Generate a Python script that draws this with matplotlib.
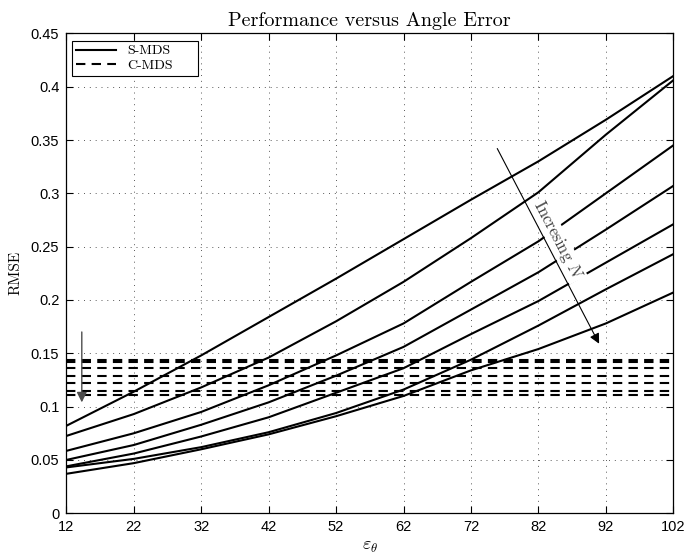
import matplotlib
matplotlib.use('Agg')
import matplotlib.pyplot as plt
from matplotlib.ticker import FuncFormatter

# =============================================================================
# 1. DATA
# =============================================================================

# angle error values on the x axis
eps_theta = [12, 22, 32, 42, 52, 62, 72, 82, 92, 102]

# S-MDS RMSE, one curve per network size (smallest N first)
smds_n1 = [0.082, 0.114, 0.148, 0.184, 0.220, 0.257, 0.294, 0.330, 0.369, 0.410]
smds_n2 = [0.0725, 0.093, 0.118, 0.146, 0.180, 0.217, 0.258, 0.301, 0.355, 0.406]
smds_n3 = [0.0585, 0.075, 0.095, 0.120, 0.148, 0.178, 0.217, 0.255, 0.300, 0.345]
smds_n4 = [0.050, 0.064, 0.083, 0.104, 0.129, 0.156, 0.191, 0.226, 0.266, 0.307]
smds_n5 = [0.044, 0.056, 0.072, 0.090, 0.113, 0.136, 0.168, 0.199, 0.235, 0.271]
smds_n6 = [0.043, 0.051, 0.062, 0.076, 0.094, 0.116, 0.144, 0.176, 0.210, 0.243]
smds_n7 = [0.037, 0.047, 0.060, 0.074, 0.091, 0.110, 0.134, 0.154, 0.178, 0.207]
smds_curves = [smds_n1, smds_n2, smds_n3, smds_n4, smds_n5, smds_n6, smds_n7]

# C-MDS does not depend on the angle error: one flat RMSE level per N
cmds_levels = [0.144, 0.142, 0.136, 0.129, 0.122, 0.115, 0.111]

y_ticks = [0, 0.05, 0.1, 0.15, 0.2, 0.25, 0.3, 0.35, 0.4, 0.45]

# annotation arrows (data coordinates)
arrow_cmds_start = (14.3, 0.170)
arrow_cmds_end = (14.3, 0.104)
arrow_smds_start = (75.9, 0.342)
arrow_smds_end = (91.0, 0.159)

# =============================================================================
# 2. FIGURE
# =============================================================================

plt.rcParams['mathtext.fontset'] = 'cm'

fig = plt.figure(figsize=(6.89, 5.57), dpi=100)
ax = fig.add_axes([0.0962, 0.0785, 0.881, 0.8616])

for i, curve in enumerate(smds_curves):
    ax.plot(eps_theta, curve, color='k', linewidth=1.5, zorder=2,
            label='S-MDS' if i == 0 else None)

for i, level in enumerate(cmds_levels):
    ax.plot(eps_theta, [level] * len(eps_theta), color='k', linewidth=1.5,
            linestyle=(0, (4.5, 3)), zorder=2,
            label='C-MDS' if i == 0 else None)

# =============================================================================
# 3. AXES, GRID AND TEXT
# =============================================================================

ax.set_xlim(eps_theta[0], eps_theta[-1])
ax.set_ylim(y_ticks[0], y_ticks[-1])
ax.set_xticks(eps_theta)
ax.set_yticks(y_ticks)
ax.yaxis.set_major_formatter(FuncFormatter(lambda v, p: f'{v:g}'))

ax.tick_params(direction='in', top=True, right=True, length=5, width=0.8,
               labelsize=10.5, pad=5)
for lbl in ax.get_xticklabels() + ax.get_yticklabels():
    lbl.set_fontfamily('Liberation Sans')
for side in ax.spines.values():
    side.set_linewidth(0.9)

ax.grid(True, color='0.35', linestyle=(0, (1, 5)), linewidth=0.7)
ax.set_axisbelow(True)

ax.set_title('Performance versus Angle Error', fontfamily='cmr10',
             fontsize=14.5, pad=5)
ax.set_ylabel('RMSE', fontfamily='cmr10', fontsize=11, labelpad=6)
ax.set_xlabel(r'$\varepsilon_\theta$', fontsize=13, labelpad=2)

# legend box stretched to a fixed width, like the MATLAB one
leg = ax.legend(loc='upper left', bbox_to_anchor=(0.0095, 0.0, 0.208, 0.985),
                mode='expand', borderaxespad=0, fancybox=False, framealpha=1,
                edgecolor='k', handlelength=2.9, handletextpad=0.75,
                borderpad=0.3, labelspacing=0.12,
                prop={'family': 'cmr10', 'size': 10})
leg.get_frame().set_linewidth(0.8)

ax.annotate('', xy=arrow_cmds_end, xytext=arrow_cmds_start,
            arrowprops=dict(arrowstyle='-|>', color='0.3', lw=1.0,
                            mutation_scale=15, shrinkA=0, shrinkB=0),
            zorder=5)
ax.annotate('', xy=arrow_smds_end, xytext=arrow_smds_start,
            arrowprops=dict(arrowstyle='-|>', color='k', lw=0.8,
                            mutation_scale=15, shrinkA=0, shrinkB=0),
            zorder=5)

ax.text(84.9, 0.2555, r'Incresing $N$', fontfamily='cmr10', fontsize=12,
        color='0.25', rotation=-62.3, rotation_mode='anchor',
        ha='center', va='center', zorder=4,
        bbox=dict(facecolor='white', edgecolor='none', pad=0.5))

plt.savefig('out.png', dpi=100)
